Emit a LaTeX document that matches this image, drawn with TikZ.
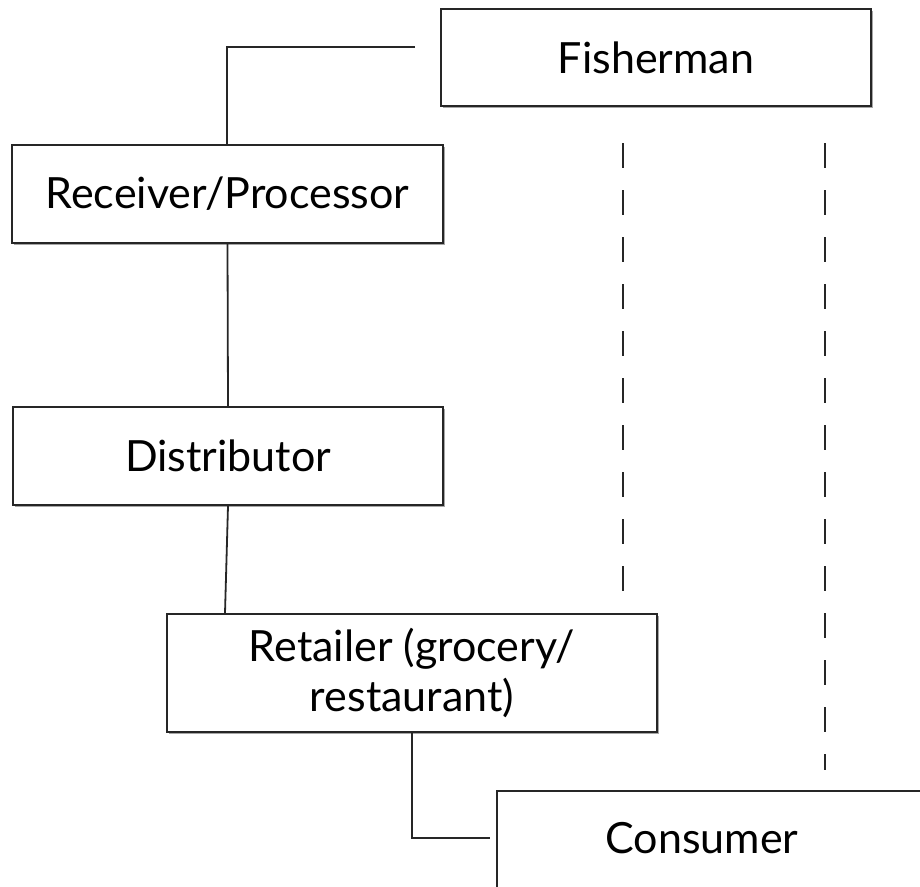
\documentclass[tikz,border=0pt]{standalone}
\usepackage{fontspec}
\setmainfont{Lato}
\usetikzlibrary{shadows}
\begin{document}
\begin{tikzpicture}[x=1pt,y=-1pt,
  box/.style={draw=black!85, line width=1.8pt, fill=white, rectangle, inner sep=0pt,
    drop shadow={shadow xshift=1.5pt, shadow yshift=-1.5pt, opacity=0.35, fill=black}},
  conn/.style={draw=black!85, line width=1.8pt},
  dashline/.style={draw=black!85, line width=1.8pt, dash pattern=on 25pt off 22pt},
  lbl/.style={font=\fontsize{43}{50}\selectfont, align=center}]
\useasboundingbox (0,0) rectangle (920,886);
\clip (0,0) rectangle (920,886);
\node[box, lbl, minimum width=430pt, minimum height=97pt] (fish) at (656,57.5) {Fisherman};
\node[box, lbl, minimum width=431pt, minimum height=98pt] (recv) at (227.5,194) {Receiver/Processor};
\node[box, lbl, minimum width=430pt, minimum height=98pt] (dist) at (228,456) {Distributor};
\node[box, lbl, minimum width=490pt, minimum height=118pt] (ret) at (412,673) {Retailer (grocery/\\restaurant)};
\node[box, minimum width=520pt, minimum height=160pt, anchor=north west] (cons) at (496,790) {};
\node[lbl] (constext) at (702,838) {Consumer};
\coordinate (f0) at (415,47);
\coordinate (c0) at (490,838);
\draw[conn] (f0) -- (227,47) -- (recv.north -| 227,0);
\draw[conn] (recv.south) -- (dist.north);
\draw[conn] (dist.south) -- (ret.north -| 225,0);
\draw[conn] (ret.south) -- (412,838) -- (c0);
\coordinate (d1a) at (623,143);
\coordinate (d1b) at (623,612);
\coordinate (d2a) at (825,143);
\coordinate (d2b) at (825,770);
\draw[dashline] (d1a) -- (d1b);
\draw[dashline] (d2a) -- (d2b);
\end{tikzpicture}
\end{document}
